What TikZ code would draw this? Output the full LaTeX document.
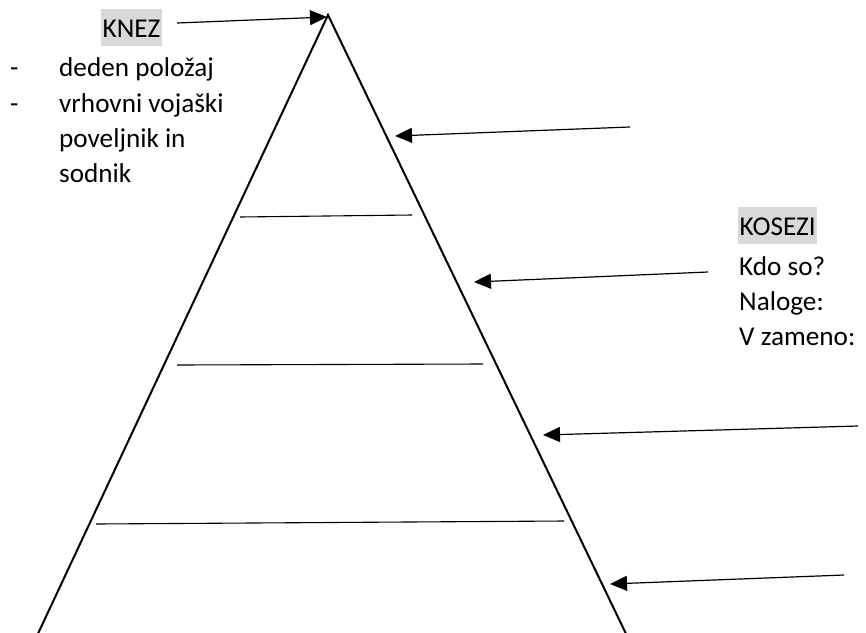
\documentclass[tikz,border=0pt]{standalone}
\usepackage{fontspec}
\setmainfont{Carlito}
\usetikzlibrary{arrows.meta}
\definecolor{hl}{HTML}{D9D9D9}
\tikzset{
  txt/.style={anchor=base west, inner sep=0pt, font=\fontsize{27.2}{38}\selectfont},
  hltxt/.style={txt, fill=hl, inner xsep=1.5pt, text height=28pt, text depth=9pt},
  side/.style={line width=2pt, line join=miter},
  level/.style={line width=1.1pt},
  pointer/.style={line width=1.2pt, -{Triangle[length=17pt,width=15pt]}}
}
\begin{document}
\begin{tikzpicture}[x=1pt,y=-1pt]
\useasboundingbox (0,0) rectangle (866,632);
% pyramid
\coordinate (bl) at (35,640);
\coordinate (apex) at (328,15);
\coordinate (br) at (629,640);
\begin{scope}
\clip (0,0) rectangle (866,632);
\draw[side] (bl) -- (apex) -- (br);
\end{scope}
% level lines
\coordinate (l1a) at (240,217); \coordinate (l1b) at (412,215);
\coordinate (l2a) at (177,365); \coordinate (l2b) at (483,364);
\coordinate (l3a) at (96,524);  \coordinate (l3b) at (564,521);
\draw[level] (l1a) -- (l1b);
\draw[level] (l2a) -- (l2b);
\draw[level] (l3a) -- (l3b);
% left text
\node[hltxt] (knez) at (101,37) {KNEZ};
\node[txt] (d1) at (10,76) {-};
\node[txt] (d2) at (10,112) {-};
\node[txt] (t1) at (59,76) {deden položaj};
\node[txt] (t2) at (59,112) {vrhovni vojaški};
\node[txt] (t3) at (59,147) {poveljnik in};
\node[txt] (t4) at (59,182) {sodnik};
% right text
\node[hltxt] (kosezi) at (738,235) {KOSEZI};
\node[txt] (k1) at (739,275) {Kdo so?};
\node[txt] (k2) at (739,310) {Naloge:};
\node[txt] (k3) at (739,345) {V zameno:};
% arrows
\coordinate (a1s) at (177,23);  \coordinate (a1e) at (327,17);
\coordinate (a2s) at (630,127); \coordinate (a2e) at (395,136);
\coordinate (a3s) at (708,272); \coordinate (a3e) at (474,282);
\coordinate (a4s) at (858,426); \coordinate (a4e) at (543,435);
\coordinate (a5s) at (844,575); \coordinate (a5e) at (610,584);
\draw[pointer] (a1s) -- (a1e);
\draw[pointer] (a2s) -- (a2e);
\draw[pointer] (a3s) -- (a3e);
\draw[pointer] (a4s) -- (a4e);
\draw[pointer] (a5s) -- (a5e);
\end{tikzpicture}
\end{document}
